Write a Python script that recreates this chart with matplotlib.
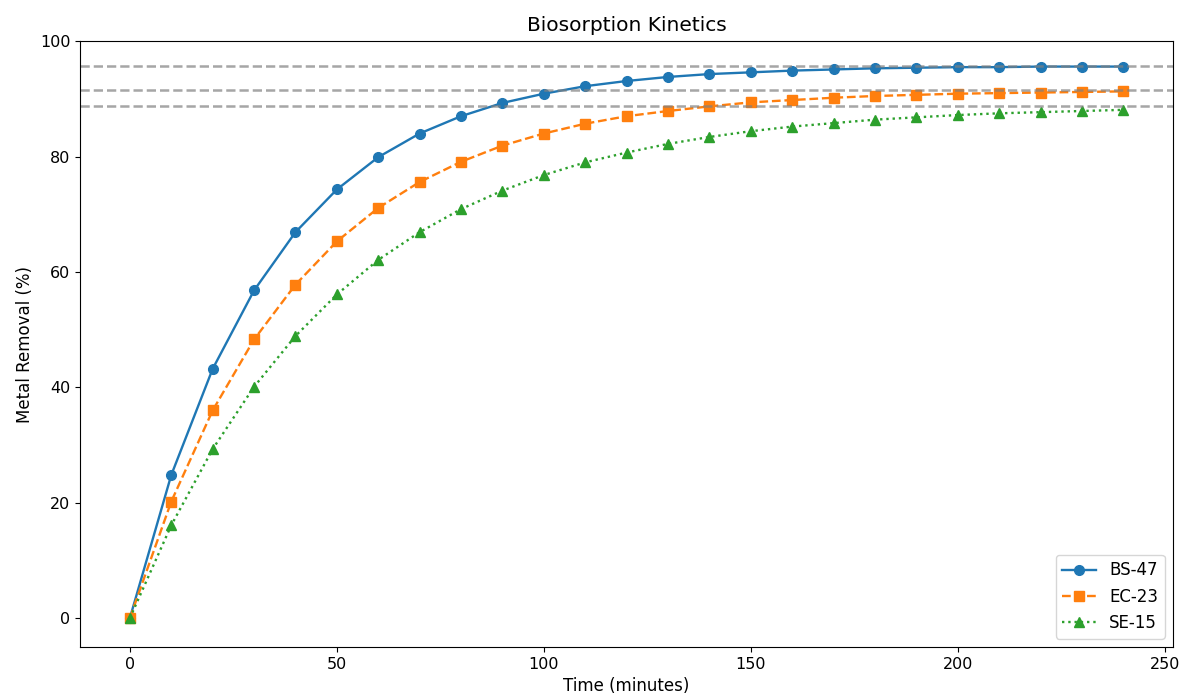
import numpy as np
import matplotlib
matplotlib.use('Agg')
import matplotlib.pyplot as plt

# data
tiempo = list(range(0, 250, 10))

bs47 = [0, 24.8, 43.2, 56.8, 66.9, 74.3, 79.9, 84.0, 87.0, 89.3, 90.9, 92.2, 93.1,
        93.8, 94.3, 94.6, 94.9, 95.1, 95.3, 95.4, 95.5, 95.5, 95.6, 95.6, 95.6]
ec23 = [0, 20.2, 36.0, 48.3, 57.8, 65.3, 71.1, 75.6, 79.1, 81.9, 84.0, 85.7, 87.0,
        87.9, 88.7, 89.4, 89.8, 90.2, 90.5, 90.7, 90.9, 91.0, 91.1, 91.2, 91.3]
se15 = [0, 16.1, 29.3, 40.1, 48.9, 56.1, 62.1, 66.9, 70.9, 74.1, 76.8, 79.0, 80.7,
        82.2, 83.4, 84.4, 85.2, 85.8, 86.4, 86.8, 87.2, 87.5, 87.7, 87.9, 88.1]

equilibrio = [95.7, 91.5, 88.8]

plt.rcParams['font.size'] = 11.5

fig = plt.figure(figsize=(11.79, 6.98), dpi=100)
ax = fig.add_axes([0.068, 0.073, 0.927, 0.868])

ax.plot(tiempo, bs47, marker='o', linestyle='-', color='tab:blue', ms=7, lw=1.7, label='BS-47')
ax.plot(tiempo, ec23, marker='s', linestyle='--', color='tab:orange', ms=7, lw=1.7, label='EC-23')
ax.plot(tiempo, se15, marker='^', linestyle=':', color='tab:green', ms=7, lw=1.7, label='SE-15')

for q in equilibrio:
    ax.axhline(q, color='gray', linestyle='--', lw=1.8, alpha=0.7)

ax.set_xlim(-12, 252)
ax.set_ylim(-5, 100)
ax.set_title('Biosorption Kinetics', fontsize=14.5, pad=7)
ax.set_xlabel('Time (minutes)', fontsize=12)
ax.set_ylabel('Metal Removal (%)', fontsize=12)
ax.legend(loc='lower right', fontsize=12)

fig.savefig('out.png', dpi=100)
